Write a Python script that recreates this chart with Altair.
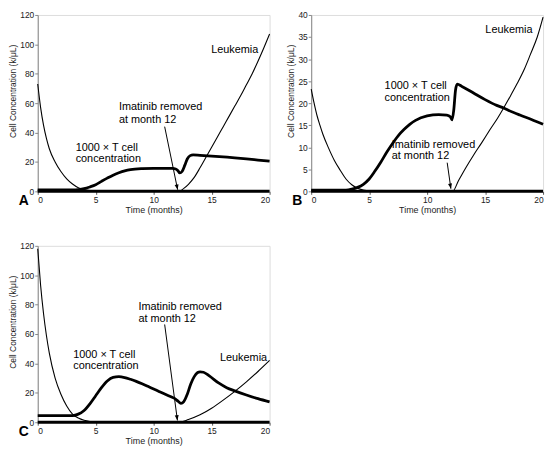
import altair as alt
import pandas as pd

# ---------------- Panel A ----------------
a_leuk_t = [0, 0.25, 0.5, 0.75, 1, 1.5, 2, 2.5, 3, 3.5, 4, 4.5, 5, 6, 8, 10, 12, 12.2,
            12.6, 13, 13.5, 14, 14.5, 15, 15.5, 16, 16.5, 17, 17.5, 18, 18.5, 19, 19.5, 20]
a_leuk_v = [73, 57, 45, 36, 29, 20, 13.5, 8.5, 5, 2.5, 1.2, 0.5, 0.2, 0, 0, 0, 0, 0,
            2, 4.8, 9.5, 16, 23, 30, 37, 44, 51, 58, 65, 72.5, 80, 88.5, 97.5, 107]
a_tc_t = [0, 1, 2, 3, 3.5, 4, 4.5, 5, 5.5, 6, 6.5, 7, 7.5, 8, 9, 10, 11, 11.6, 11.9, 12.1,
          12.25, 12.45, 12.7, 12.9, 13.15, 13.4, 14, 15, 16, 17, 18, 19, 20]
a_tc_v = [1, 1, 1, 1, 1.2, 1.8, 3, 4.5, 6.8, 9, 11, 12.6, 13.9, 14.8, 15.5, 15.7, 15.7, 15.6,
          15.2, 14, 12.5, 13.5, 18, 22, 24.3, 24.8, 24.5, 24, 23.4, 22.8, 22.1, 21.3, 20.5]
a_labels = ["1000 \u00d7 T cell", "concentration", "Imatinib removed", "at month 12", "Leukemia"]
a_label_t = [3.27, 3.27, 7.0, 7.0, 14.96]
a_label_y = [29.7, 21.9, 57.4, 48.8, 96.3]
a_arrow = [10.95, 44.0, 12.07, 1.1]

# ---------------- Panel B ----------------
b_leuk_t = [0, 0.25, 0.5, 0.75, 1, 1.5, 2, 2.5, 3, 3.5, 4, 4.5, 5, 6, 8, 10, 12, 12.2,
            12.7, 13.3, 14, 14.7, 15.4, 16.1, 16.6, 17.2, 17.8, 18.4, 18.9, 19.5, 20]
b_leuk_v = [23.2, 20, 17.2, 15, 13, 9.8, 7, 4.8, 2.8, 1.5, 0.7, 0.3, 0.1, 0, 0, 0, 0, 0,
            2.4, 5.2, 8.2, 11, 13.9, 16.7, 18.9, 21.7, 24.6, 27.8, 31, 35, 39.5]
b_tc_t = [0, 1, 2, 3, 3.5, 4, 4.5, 5, 5.5, 6, 6.5, 7, 7.5, 8, 8.5, 9, 10, 11, 11.7, 12,
          12.15, 12.3, 12.45, 12.6, 13, 14, 15, 16, 16.6, 17, 18, 19, 20]
b_tc_v = [0.3, 0.3, 0.3, 0.3, 0.5, 0.9, 1.6, 2.8, 4.6, 6.6, 8.8, 10.8, 12.6, 14.0, 15.2, 16.1,
          17.1, 17.4, 17.3, 16.9, 16.2, 18.5, 23, 24.3, 23.8, 22.3, 20.8, 19.5, 18.9, 18.4,
          17.3, 16.3, 15.2]
b_labels = ["1000 \u00d7 T cell", "concentration", "Imatinib removed", "at month 12", "Leukemia"]
b_label_t = [6.33, 6.33, 6.95, 6.95, 15.02]
b_label_y = [23.9, 21.2, 10.6, 7.96, 36.6]
b_arrow = [11.73, 6.5, 12.05, 0.6]

# ---------------- Panel C ----------------
c_leuk_t = [0, 0.25, 0.5, 0.75, 1, 1.5, 2, 2.5, 3, 3.5, 4, 4.5, 5, 6, 8, 10, 12, 12.2,
            13, 14, 15, 16, 17, 18, 19, 20]
c_leuk_v = [118, 93, 74, 59, 47, 30, 19, 11, 5.5, 2.8, 1.3, 0.5, 0.1, 0, 0, 0, 0, 0,
            1.8, 5, 9.5, 15, 21, 27.5, 34.5, 42]
c_tc_t = [0, 1, 2, 3, 3.5, 4, 4.5, 5, 5.5, 6, 6.5, 7, 7.5, 8, 8.5, 9, 9.5, 10, 10.5, 11,
          11.5, 11.8, 12.1, 12.35, 12.6, 12.9, 13.2, 13.5, 13.8, 14.0, 14.3, 14.8, 15.6,
          16.3, 17, 18, 19, 20]
c_tc_v = [4.5, 4.5, 4.5, 4.5, 5.5, 8, 12.5, 18, 23.5, 28, 30.5, 31, 30.4, 29.2, 27.8, 26.2,
          24.4, 22.6, 20.8, 19, 17.3, 16.2, 14.3, 12.8, 14, 19, 26, 31, 33.8, 34.3, 34, 31.5,
          26.7, 23.5, 21.3, 18.5, 16, 13.8]
c_labels = ["1000 \u00d7 T cell", "concentration", "Imatinib removed", "at month 12", "Leukemia"]
c_label_t = [3.06, 3.06, 8.69, 8.69, 15.72]
c_label_y = [46.0, 38.1, 78.3, 70.1, 43.9]
c_arrow = [10.95, 66.5, 12.05, 1.2]

W = 234
H = 178
FONT = "Liberation Sans"
ARROW_PATH = "M0,0 L-0.38,-1 L0.38,-1 Z"


def panel(lt, lv, tt, tv, ymax, ystep, lab, lab_t, lab_y, arrow, angle, letter):
    x_scale = alt.Scale(domain=[0, 20], nice=False)
    y_scale = alt.Scale(domain=[0, ymax], nice=False)
    x_axis = alt.Axis(values=[0, 5, 10, 15, 20], title="Time (months)", grid=False,
                      domain=False, tickSize=3, labelFontSize=8.5, titleFontSize=9,
                      titleFontWeight="normal", labelFont=FONT, titleFont=FONT,
                      labelColor="#222", titleColor="#222", tickColor="#555",
                      labelPadding=1, titlePadding=2, labelOverlap=False)
    y_axis = alt.Axis(values=list(range(0, ymax + 1, ystep)), title="Cell Concentration (k/\u03bcL)",
                      grid=False, tickSize=3, labelFontSize=8.5, titleFontSize=8.5,
                      titleFontWeight="normal", labelFont=FONT, titleFont=FONT,
                      labelColor="#222", titleColor="#222", domainColor="#888",
                      tickColor="#888", labelPadding=1, titlePadding=2, titleY=H * 0.43,
                      labelOverlap=False)

    leuk = pd.DataFrame({"t": lt, "v": lv})
    tcell = pd.DataFrame({"t": tt, "v": tv})
    labels = pd.DataFrame({"t": lab_t, "y": lab_y, "text": lab})
    arr = pd.DataFrame({"t0": [arrow[0]], "y0": [arrow[1]], "t1": [arrow[2]], "y1": [arrow[3]]})
    base_df = pd.DataFrame({"a": [0], "b": [20], "z": [0], "letter": [letter]})

    base_line = alt.Chart(base_df).mark_rule(color="black", strokeWidth=3).encode(
        x=alt.X("a:Q", scale=x_scale, axis=x_axis),
        x2="b:Q",
        y=alt.Y("z:Q", scale=y_scale, axis=y_axis),
    )
    leuk_line = alt.Chart(leuk).mark_line(color="black", strokeWidth=1.1,
                                          interpolate="monotone").encode(
        x=alt.X("t:Q", scale=x_scale, axis=x_axis), y=alt.Y("v:Q", scale=y_scale, axis=y_axis))
    tc_line = alt.Chart(tcell).mark_line(color="black", strokeWidth=2.8,
                                         interpolate="monotone").encode(
        x=alt.X("t:Q", scale=x_scale, axis=x_axis), y=alt.Y("v:Q", scale=y_scale, axis=y_axis))
    texts = alt.Chart(labels).mark_text(align="left", baseline="middle", fontSize=11,
                                        font=FONT, color="black").encode(
        x=alt.X("t:Q", scale=x_scale, axis=x_axis), y=alt.Y("y:Q", scale=y_scale, axis=y_axis),
        text="text:N")
    shaft = alt.Chart(arr).mark_rule(color="black", strokeWidth=1).encode(
        x=alt.X("t0:Q", scale=x_scale, axis=x_axis), y=alt.Y("y0:Q", scale=y_scale, axis=y_axis),
        x2="t1:Q", y2="y1:Q")
    head = alt.Chart(arr).mark_point(shape=ARROW_PATH, filled=True, color="black",
                                     size=110, opacity=1, angle=angle).encode(
        x=alt.X("t1:Q", scale=x_scale, axis=x_axis), y=alt.Y("y1:Q", scale=y_scale, axis=y_axis))
    letter_mark = alt.Chart(base_df).mark_text(fontSize=14, fontWeight="bold", font=FONT,
                                               align="center", baseline="middle",
                                               color="black").encode(
        x=alt.value(-14), y=alt.value(H + 10), text="letter:N")

    return alt.layer(base_line, leuk_line, tc_line, texts, shaft, head, letter_mark).properties(
        width=W, height=H)


pA = panel(a_leuk_t, a_leuk_v, a_tc_t, a_tc_v, 120, 20, a_labels, a_label_t, a_label_y,
           a_arrow, 348, "A")
pB = panel(b_leuk_t, b_leuk_v, b_tc_t, b_tc_v, 40, 5, b_labels, b_label_t, b_label_y,
           b_arrow, 350, "B")
pC = panel(c_leuk_t, c_leuk_v, c_tc_t, c_tc_v, 120, 20, c_labels, c_label_t, c_label_y,
           c_arrow, 352, "C")

chart = alt.vconcat(alt.hconcat(pA, pB, spacing=10), pC, spacing=26).properties(
    padding={"left": 0, "top": 0, "right": 0, "bottom": 0}
).configure_view(stroke=None).configure(background="white")

chart.save("out.html", embed_options={"renderer": "svg", "actions": False})
